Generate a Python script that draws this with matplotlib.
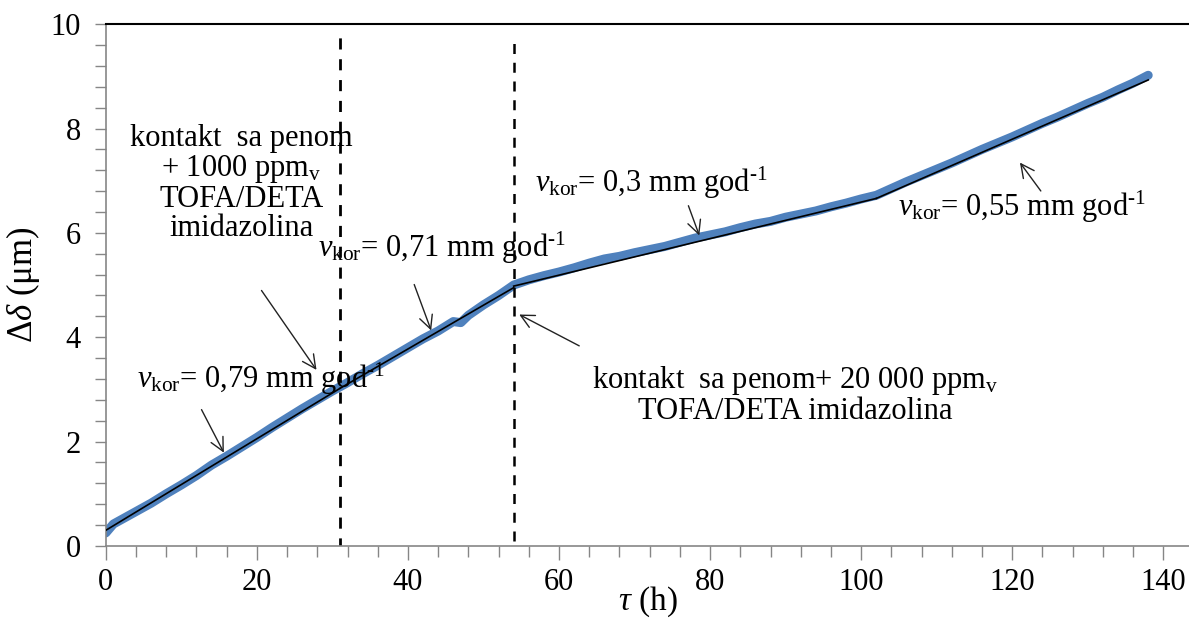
import numpy as np
import matplotlib
matplotlib.use("Agg")
import matplotlib.pyplot as plt

plt.rcParams['font.family'] = ['Liberation Serif', 'DejaVu Serif']
plt.rcParams['mathtext.fontset'] = 'custom'
plt.rcParams['mathtext.rm'] = 'Liberation Serif'
plt.rcParams['mathtext.it'] = 'Liberation Serif:italic'

tau = [0, 1, 2, 4, 6, 8, 10, 12, 14, 16, 18, 20, 22, 24, 26, 28, 30, 32, 34, 36,
       38, 40, 42, 44, 46, 47, 48, 50, 52, 54, 56, 58, 60, 62, 64, 66, 68, 70,
       72, 74, 76, 78, 80, 82, 84, 86, 88, 90, 92, 94, 96, 98, 100, 102, 104,
       106, 108, 110, 112, 114, 116, 118, 120, 122, 124, 126, 128, 130, 132,
       134, 136, 138]
delta = [0.25, 0.42, 0.50, 0.66, 0.82, 1.00, 1.17, 1.35, 1.55, 1.72, 1.90, 2.08,
         2.27, 2.45, 2.63, 2.80, 2.97, 3.13, 3.30, 3.46, 3.63, 3.80, 3.97, 4.12,
         4.30, 4.28, 4.42, 4.62, 4.80, 5.00, 5.10, 5.18, 5.25, 5.33, 5.42, 5.50,
         5.55, 5.62, 5.68, 5.74, 5.82, 5.90, 5.96, 6.02, 6.10, 6.17, 6.22, 6.30,
         6.36, 6.42, 6.50, 6.57, 6.65, 6.72, 6.85, 6.98, 7.10, 7.22, 7.34, 7.47,
         7.60, 7.72, 7.84, 7.97, 8.10, 8.22, 8.35, 8.48, 8.60, 8.74, 8.87, 9.02]

# linear fit segments (start/end)
fit_x = [(0, 31), (31, 54), (54, 102), (102, 138)]
fit_y = [(0.30, 3.02), (3.02, 4.95), (4.98, 6.66), (6.66, 8.93)]

# times of inhibitor addition
contact_times = [31, 54]

fig = plt.figure(figsize=(11.89, 6.19), dpi=100)
ax = fig.add_axes([0.089, 0.118, 0.911, 0.843])

ax.plot(tau, delta, color='#4F81BD', lw=6.5, solid_capstyle='round', zorder=2)
for xs, ys in zip(fit_x, fit_y):
    ax.plot(xs, ys, color='black', lw=1.2, zorder=3)

ax.vlines(contact_times[0], -0.05, 9.8, colors='black', linestyles=(0, (4, 3.5)), lw=2)
ax.vlines(contact_times[1], 0.1, 9.75, colors='black', linestyles=(0, (4, 3.5)), lw=1.8)

ax.set_xlim(0, 143.4)
ax.set_ylim(0, 10)
ax.set_xticks(np.arange(0, 141, 20))
ax.set_xticks(np.arange(0, 141, 4), minor=True)
ax.set_yticks(np.arange(0, 10.1, 2))
ax.set_yticks(np.arange(0, 10.01, 0.4), minor=True)
ax.tick_params(axis='both', which='both', color='#868686', labelsize=22)
ax.tick_params(axis='x', which='major', direction='out', length=10, width=1, pad=6)
ax.tick_params(axis='x', which='minor', direction='out', length=8, width=1)
ax.tick_params(axis='y', which='major', direction='out', length=8, width=1, pad=10)
ax.tick_params(axis='y', which='minor', direction='out', length=8, width=1)

for s in ['left', 'bottom']:
    ax.spines[s].set_color('#868686')
    ax.spines[s].set_linewidth(1.2)
ax.spines['right'].set_visible(False)
ax.spines['top'].set_color('black')
ax.spines['top'].set_linewidth(1.5)

ax.set_xlabel(r'$\tau$ (h)', fontsize=24, labelpad=-9)
ax.set_ylabel(r'$\Delta\delta$ (μm)', fontsize=25, labelpad=6)

fs = 22
arr = dict(arrowstyle='->', color='#222222', lw=1, mutation_scale=24)
sup = r'god$^{\mathrm{‐1}}$'

ax.text(18, 6.95, 'kontakt  sa penom\n+ 1000 ppm$_{\\rm v}$\nTOFA/DETA\nimidazolina',
        ha='center', va='center', fontsize=fs, linespacing=1.0)
ax.annotate('', xy=(28.1, 3.33), xytext=(20.4, 4.94), arrowprops=arr)

ax.text(44.5, 5.72, r'$v_{\rm kor}$= 0,71 mm ' + sup, ha='center', va='center', fontsize=fs)
ax.annotate('', xy=(43.2, 4.08), xytext=(40.7, 5.06), arrowprops=arr)

ax.text(20.5, 3.2, r'$v_{\rm kor}$= 0,79 mm ' + sup, ha='center', va='center', fontsize=fs)
ax.annotate('', xy=(15.8, 1.74), xytext=(12.5, 2.66), arrowprops=arr)

ax.text(72.2, 6.95, r'$v_{\rm kor}$= 0,3 mm ' + sup, ha='center', va='center', fontsize=fs)
ax.annotate('', xy=(78.7, 5.9), xytext=(77.0, 6.57), arrowprops=arr)

ax.text(121.3, 6.5, r'$v_{\rm kor}$= 0,55 mm ' + sup, ha='center', va='center', fontsize=fs)
ax.annotate('', xy=(120.8, 7.39), xytext=(124.0, 6.76), arrowprops=arr)

ax.text(91.3, 2.9, 'kontakt  sa penom+ 20 000 ppm$_{\\rm v}$\nTOFA/DETA imidazolina',
        ha='center', va='center', fontsize=fs, linespacing=1.0)
ax.annotate('', xy=(54.4, 4.46), xytext=(63.0, 3.81), arrowprops=arr)

fig.savefig('out.png', dpi=100)
